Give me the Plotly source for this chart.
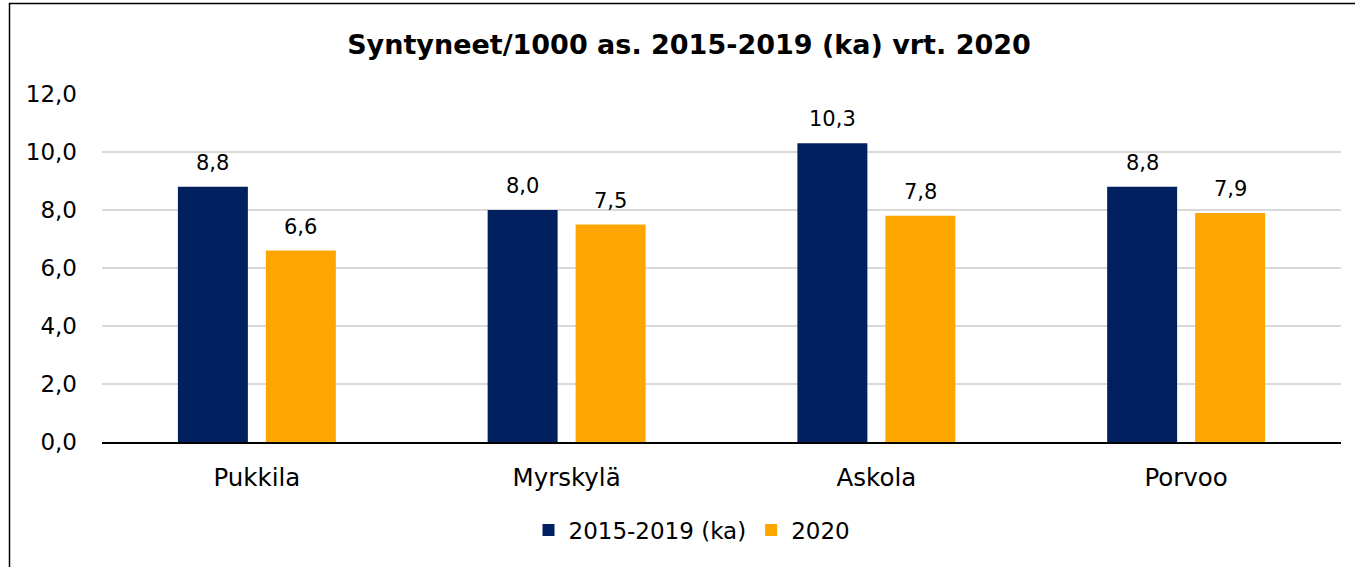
import plotly.graph_objects as go

categories = ["Pukkila", "Myrskylä", "Askola", "Porvoo"]
series_names = ["2015-2019 (ka)", "2020"]
values_avg = [8.8, 8.0, 10.3, 8.8]
values_2020 = [6.6, 7.5, 7.8, 7.9]
colors = ["#002060", "#FFA500"]
y_ticks = [0, 2, 4, 6, 8, 10, 12]

FONT = "DejaVu Sans"
W, H = 1355, 567
ml, mr, mt, mb = 102, 14, 94, 125
pw, ph = W - ml - mr, H - mt - mb
BARGAP = 0.432

fig = go.Figure()
for name, vals, col in zip(series_names, [values_avg, values_2020], colors):
    fig.add_trace(go.Bar(x=categories, y=vals, name=name, marker=dict(color=col, line=dict(width=0))))

# data labels
slot = pw / len(categories) * (1 - BARGAP) / 2
for i, vals in enumerate([values_avg, values_2020]):
    off = (i - 0.5) * slot
    for c, v in zip(categories, vals):
        fig.add_annotation(x=c, y=v, xshift=off, yshift=10, yanchor="bottom",
                           text=f"{v:.1f}".replace(".", ","), showarrow=False,
                           font=dict(family=FONT, size=21, color="#000000"))

# outer frame
fig.add_shape(type="rect", xref="paper", yref="paper",
              x0=(9.5 - ml) / pw, x1=(W + 20 - ml) / pw,
              y0=-(H + 20 - mt - ph) / ph, y1=(H - mb - 3.5) / ph,
              line=dict(color="#000000", width=1.5), layer="below")

fig.update_layout(
    width=W, height=H,
    margin=dict(l=ml, r=mr, t=mt, b=mb),
    paper_bgcolor="white", plot_bgcolor="white",
    separators=", ",
    barmode="group", bargap=BARGAP, bargroupgap=0.2045,
    title=dict(text="<b>Syntyneet/1000 as. 2015-2019 (ka) vrt. 2020</b>",
               x=689 / W, xanchor="center", y=1 - 45 / H, yanchor="middle",
               font=dict(family=FONT, size=27, color="#000000")),
    font=dict(family=FONT, color="#000000"),
    legend=dict(orientation="h", x=(692 - ml) / pw, xanchor="center", y=-(530 - mt - ph) / ph,
                yanchor="middle", font=dict(family=FONT, size=23, color="#000000"),
                itemwidth=30, traceorder="normal"),
    showlegend=True,
)
fig.update_yaxes(range=[0, 12], tickvals=y_ticks, tickformat=".1f",
                 showgrid=True, gridcolor="#D9D9D9", gridwidth=1.5,
                 zeroline=False, showline=False, ticks="",
                 ticklabelstandoff=24,
                 tickfont=dict(family=FONT, size=23, color="#000000"))
fig.update_xaxes(showline=True, linecolor="#000000", linewidth=1.5, ticks="",
                 ticklabelstandoff=13,
                 tickfont=dict(family=FONT, size=24.5, color="#000000"))

fig.write_html("out.html", config={"displayModeBar": False},
               post_script="document.body.style.margin='0';")
